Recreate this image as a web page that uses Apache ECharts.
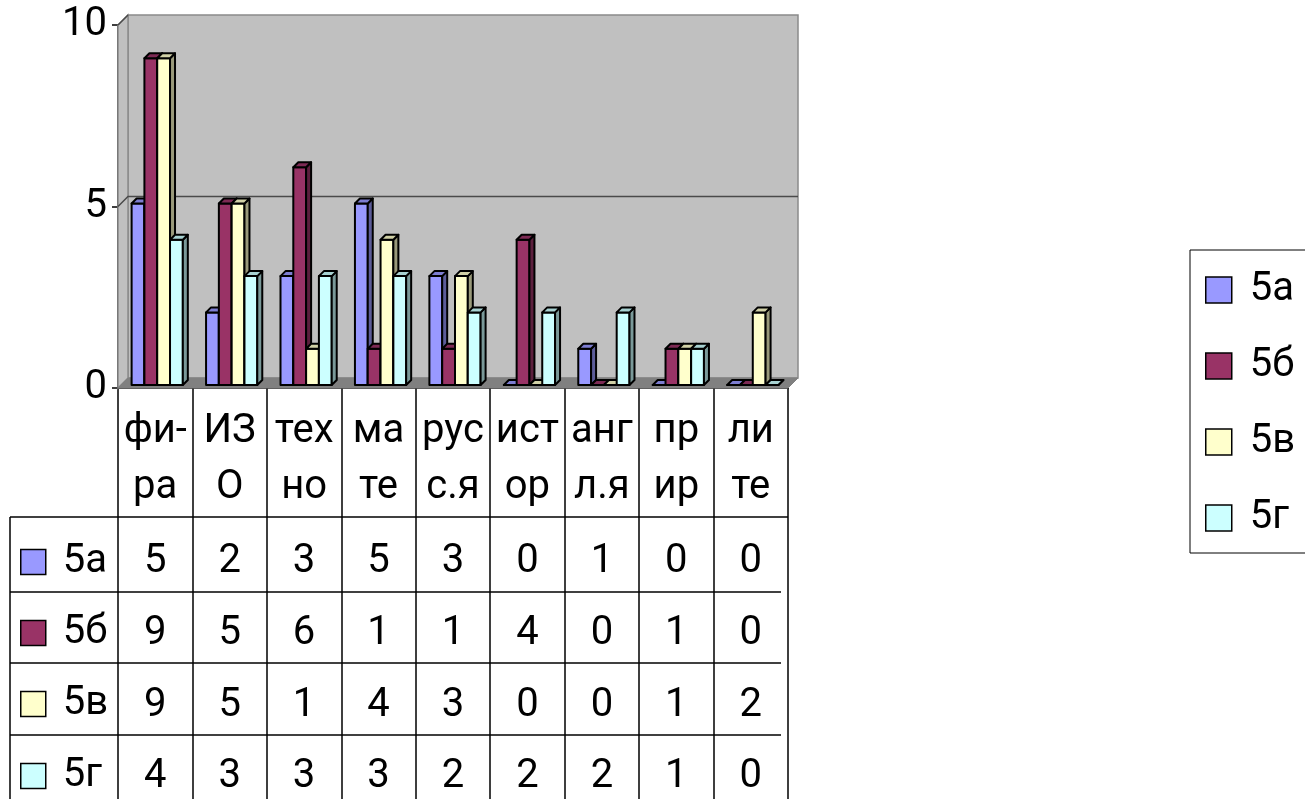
<!DOCTYPE html>
<html>
<head>
<meta charset="utf-8">
<script src="https://cdn.jsdelivr.net/npm/echarts@6/dist/echarts.min.js"></script>
<style>
  html, body { margin: 0; padding: 0; background: #fff; }
  #chart { width: 1305px; height: 799px; }
</style>
</head>
<body>
<div id="chart"></div>
<script>
// данные
const categories = ['фи-\nра', 'ИЗ\nО', 'тех\nно', 'ма\nте', 'рус\nс.я', 'ист\nор', 'анг\nл.я', 'пр\nир', 'ли\nте'];
const classNames = ['5а', '5б', '5в', '5г'];
const v5a = [5, 2, 3, 5, 3, 0, 1, 0, 0];
const v5b = [9, 5, 6, 1, 1, 4, 0, 1, 0];
const v5v = [9, 5, 1, 4, 3, 0, 0, 1, 2];
const v5g = [4, 3, 3, 3, 2, 2, 2, 1, 0];
const classValues = [v5a, v5b, v5v, v5g];
const colors = ['#9999ff', '#993366', '#ffffcc', '#ccffff'];

const FONT = 'Roboto, "Noto Sans", sans-serif';
const FS = 40;
const DEPTH = 10;   // глубина стенок
const BAR_D = 5;    // глубина столбика

function shade(hex, k) {
  let n = parseInt(hex.slice(1), 16);
  let r = Math.round(((n >> 16) & 255) * k);
  let g = Math.round(((n >> 8) & 255) * k);
  let b = Math.round((n & 255) * k);
  return 'rgb(' + r + ',' + g + ',' + b + ')';
}

// стенки и пол
function renderWalls(params, api) {
  const cs = params.coordSys;
  const x = cs.x, y = cs.y, w = cs.width, h = cs.height, d = DEPTH;
  const y5 = api.coord([0, 5])[1];
  return {
    type: 'group',
    children: [
      { type: 'rect', shape: { x: x + d, y: y - d, width: w, height: h },
        style: { fill: '#c0c0c0', stroke: '#8a8a8a', lineWidth: 1.5 } },
      { type: 'polygon', shape: { points: [[x, y], [x + d, y - d], [x + d, y + h - d], [x, y + h]] },
        style: { fill: '#c0c0c0', stroke: '#8a8a8a', lineWidth: 1.5 } },
      { type: 'polygon', shape: { points: [[x, y + h], [x + d, y + h - d], [x + w + d, y + h - d], [x + w, y + h]] },
        style: { fill: '#808080', stroke: '#808080', lineWidth: 1 } },
      { type: 'polyline', shape: { points: [[x, y5], [x + d, y5 - d], [x + w + d, y5 - d]] },
        style: { fill: null, stroke: '#4a4a4a', lineWidth: 1.5 } },
      { type: 'line', shape: { x1: x, y1: y, x2: x + d, y2: y - d },
        style: { stroke: '#4a4a4a', lineWidth: 1.5 } }
    ]
  };
}

// 3D-столбик для класса k
function makeBarRenderer(k) {
  return function (params, api) {
    const c = api.value(0), v = api.value(1);
    const base = api.coord([c, 0]);
    const top = api.coord([c, v]);
    const catW = api.size([1, 0])[0];
    const bw = catW * 0.172;
    const x0 = base[0] - 2 * bw + k * bw + 2;
    const yb = base[1] - 3, yt = top[1] - 3;
    const d = BAR_D;
    const col = colors[k];
    const st = { stroke: '#000', lineWidth: 2, lineJoin: 'round' };
    return {
      type: 'group',
      children: [
        { type: 'rect', shape: { x: x0, y: yt, width: bw, height: yb - yt },
          style: Object.assign({ fill: col }, st) },
        { type: 'polygon', shape: { points: [[x0 + bw, yt], [x0 + bw + d, yt - d], [x0 + bw + d, yb - d], [x0 + bw, yb]] },
          style: Object.assign({ fill: shade(col, 0.6) }, st) },
        { type: 'polygon', shape: { points: [[x0, yt], [x0 + d, yt - d], [x0 + bw + d, yt - d], [x0 + bw, yt]] },
          style: Object.assign({ fill: shade(col, 0.82) }, st) }
      ]
    };
  };
}

// строки таблицы: центры по вертикали
const rowCenters = [562, 634, 706, 777];
const legendRows = [561, 632, 703, 775];

let xAxes = [{
  type: 'category',
  data: categories,
  position: 'bottom',
  axisLine: { show: true, onZero: false, lineStyle: { color: '#000', width: 1.5 } },
  axisTick: { show: true, interval: 0, length: 420, lineStyle: { color: '#000', width: 1.5 } },
  axisLabel: { interval: 0, margin: 16, fontSize: FS, lineHeight: 56, color: '#000', fontFamily: FONT },
  splitLine: { show: false }
}];
classValues.forEach(function (vals, k) {
  xAxes.push({
    type: 'category',
    data: categories,
    position: 'bottom',
    offset: 0,
    axisLine: { show: false, onZero: false },
    axisTick: { show: false },
    splitLine: { show: false },
    axisLabel: {
      interval: 0, margin: rowCenters[k] - 388, verticalAlign: 'middle',
      fontSize: FS, color: '#000', fontFamily: FONT,
      formatter: function (val, idx) { return String(vals[idx]); }
    }
  });
});

let series = [{
  type: 'custom',
  name: 'walls',
  renderItem: renderWalls,
  data: [[0, 0]],
  encode: { x: 0, y: 1 },
  silent: true,
  z: 1
}];
classValues.forEach(function (vals, k) {
  series.push({
    type: 'custom',
    name: classNames[k],
    renderItem: makeBarRenderer(k),
    data: vals.map(function (v, i) { return [i, v]; }),
    encode: { x: 0, y: 1 },
    itemStyle: { color: colors[k], borderColor: '#000', borderWidth: 1.5 },
    z: 2
  });
});

// легенда справа + подписи строк таблицы
let legends = [{
  data: classNames,
  orient: 'vertical',
  left: 1190, top: 250,
  padding: [20, 60, 15, 15],
  borderColor: '#000', borderWidth: 1,
  itemWidth: 26, itemHeight: 26, itemGap: 36,
  icon: 'rect',
  selectedMode: false,
  itemStyle: { borderColor: '#000', borderWidth: 1.5 },
  textStyle: { fontSize: FS, color: '#000', fontFamily: FONT, padding: [0, 0, 0, 13] }
}];
classNames.forEach(function (name, k) {
  legends.push({
    data: [name],
    orient: 'vertical',
    left: 20, top: legendRows[k] - 19,
    padding: 0,
    itemWidth: 25, itemHeight: 25,
    icon: 'rect',
    selectedMode: false,
    itemStyle: { borderColor: '#000', borderWidth: 1.5 },
    textStyle: { fontSize: FS, color: '#000', fontFamily: FONT, padding: [0, 0, 0, 12] }
  });
});

const tableLine = { stroke: '#000', lineWidth: 1.5 };

let chart = echarts.init(document.getElementById('chart'));
chart.setOption({
  animation: false,
  backgroundColor: '#fff',
  textStyle: { fontFamily: FONT },
  grid: { left: 118, right: 517, top: 25, bottom: 411, containLabel: false, outerBoundsMode: 'none' },
  xAxis: xAxes,
  yAxis: {
    type: 'value',
    min: 0, max: 10, interval: 5,
    axisLine: { show: true, lineStyle: { color: '#000', width: 1.5 } },
    axisTick: { show: true, length: 6, lineStyle: { color: '#000', width: 1.5 } },
    axisLabel: { margin: 11, fontSize: FS, color: '#000', fontFamily: FONT, padding: [6, 0, 0, 0] },
    splitLine: { show: false }
  },
  legend: legends,
  graphic: [
    { type: 'line', shape: { x1: 10, y1: 517, x2: 788, y2: 517 }, style: tableLine },
    { type: 'line', shape: { x1: 10, y1: 592, x2: 781, y2: 592 }, style: tableLine },
    { type: 'line', shape: { x1: 10, y1: 663, x2: 781, y2: 663 }, style: tableLine },
    { type: 'line', shape: { x1: 10, y1: 735, x2: 781, y2: 735 }, style: tableLine },
    { type: 'line', shape: { x1: 10, y1: 517, x2: 10, y2: 799 }, style: tableLine }
  ],
  series: series
});
</script>
</body>
</html>
